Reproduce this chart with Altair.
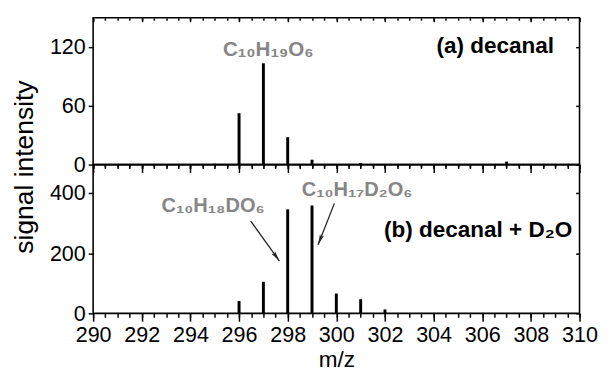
import altair as alt
import pandas as pd

# ---- data ----
mz_a = [295, 296, 297, 298, 299, 301, 307]
int_a = [1, 52.5, 103.5, 28, 5, 1.5, 3]

mz_b = [296, 297, 298, 299, 300, 301, 302]
int_b = [41, 105, 346, 359, 66, 47, 13]

x_major = [290, 292, 294, 296, 298, 300, 302, 304, 306, 308, 310]
x_minor = [290 + 0.5 * i for i in range(41)]
y_ticks_a = [0, 60, 120]
y_ticks_b = [0, 200, 400]

# annotations (data coordinates)
lab_a_text = ["C\u2081\u2080H\u2081\u2089O\u2086"]
lab_a_x = [297.2]
lab_a_y = [111]
lab_b_text = ["C\u2081\u2080H\u2081\u2088DO\u2086", "C\u2081\u2080H\u2081\u2087D\u2082O\u2086"]
lab_b_x = [294.93, 300.85]
lab_b_y = [337, 391]
arr_x1 = [296.48, 299.92]
arr_y1 = [307, 366]
arr_x2 = [297.66, 299.25]
arr_y2 = [174, 228]
arr_angle = [144.5, 201.4]

W, H1, H2 = 497, 150, 152
FONT = "Liberation Sans"
GRAY = "#868686"
LBL = 22

xs = alt.Scale(domain=[290, 310], nice=False, zero=False)
ys_a = alt.Scale(domain=[0, 150], nice=False)
ys_b = alt.Scale(domain=[0, 495], nice=False)


def ax(orient, values, tick, labels=False, offset=0, **kw):
    return alt.Axis(orient=orient, values=values, tickSize=tick, labels=labels,
                    domain=False, grid=False, title=None, offset=offset,
                    tickColor="black", tickWidth=1.5, labelFont=FONT,
                    labelFontSize=LBL, labelColor="black", labelFlush=False,
                    labelOverlap=False, **kw)


def panel(mz, vals, ys, H, yvals, bottom_labels, with_title):
    df = pd.DataFrame({"mz": mz, "v": vals})
    base = alt.Chart(df)
    if with_title:
        yaxis = alt.Axis(orient="left", values=yvals, tickSize=5, labelPadding=3,
                         domain=False, grid=False, title="signal intensity",
                         titleFont=FONT, titleFontSize=27, titleFontWeight="normal",
                         titleColor="black", titleX=-70, titleY=152,
                         titleBaseline="middle", titleAngle=270,
                         tickColor="black", tickWidth=1.5, labelFont=FONT,
                         labelFontSize=LBL, labelColor="black", labelFlush=False,
                         labelOverlap=False)
    else:
        yaxis = ax("left", yvals, 5, labels=True, labelPadding=3)
    if bottom_labels:
        xaxis = alt.Axis(orient="bottom", values=x_major, tickSize=8, labels=True,
                         labelPadding=4, domain=False, grid=False, title="m/z",
                         titleFont=FONT, titleFontSize=23, titleFontWeight="normal",
                         titleColor="black", titlePadding=3,
                         tickColor="black", tickWidth=1.5, labelFont=FONT,
                         labelFontSize=LBL, labelColor="black", labelFlush=False,
                         labelOverlap=False)
    else:
        xaxis = ax("bottom", x_major, 8)
    bars = base.mark_rule(strokeWidth=3, color="black", strokeCap="butt").encode(
        x=alt.X("mz:Q", scale=xs, axis=xaxis),
        y=alt.Y("v:Q", scale=ys, axis=yaxis),
        y2=alt.datum(0),
    )
    l2 = base.mark_point(opacity=0).encode(
        x=alt.X("mz:Q", scale=xs, axis=ax("bottom", x_minor, 4)),
        y=alt.Y("v:Q", scale=ys, axis=ax("left", yvals, 4, offset=-W)),
    )
    l3 = base.mark_point(opacity=0).encode(
        x=alt.X("mz:Q", scale=xs, axis=ax("bottom", x_major, 4, offset=-H)),
        y=alt.Y("v:Q", scale=ys, axis=None),
    )
    l4 = base.mark_point(opacity=0).encode(
        x=alt.X("mz:Q", scale=xs, axis=ax("bottom", x_minor, 2.5, offset=-H)),
        y=alt.Y("v:Q", scale=ys, axis=None),
    )
    return [bars, l2, l3, l4]


def text_layer(xv, yv, tv, ys, color, size, align="center"):
    df = pd.DataFrame({"x": xv, "y": yv, "t": tv})
    return alt.Chart(df).mark_text(font=FONT, fontWeight="bold", fontSize=size,
                                   color=color, align=align,
                                   baseline="alphabetic").encode(
        x=alt.X("x:Q", scale=xs, axis=None),
        y=alt.Y("y:Q", scale=ys, axis=None),
        text="t:N",
    )


# top panel
top_layers = panel(mz_a, int_a, ys_a, H1, y_ticks_a, False, True)
top_layers.append(text_layer(lab_a_x, lab_a_y, lab_a_text, ys_a, GRAY, 21))
top_layers.append(text_layer([308.95], [114.5], ["(a) decanal"], ys_a, "black", 23, "right"))
top = alt.layer(*top_layers).resolve_axis(x="independent", y="independent").properties(
    width=W, height=H1)

# bottom panel
bot_layers = panel(mz_b, int_b, ys_b, H2, y_ticks_b, True, False)
bot_layers.append(text_layer(lab_b_x, lab_b_y, lab_b_text, ys_b, GRAY, 20.5))
bot_layers.append(text_layer([309.7], [255], ["(b) decanal + D\u2082O"], ys_b, "black", 23, "right"))
arr_df = pd.DataFrame({"x1": arr_x1, "y1": arr_y1, "x2": arr_x2, "y2": arr_y2,
                       "ang": arr_angle})
arrows = alt.Chart(arr_df).mark_rule(color="#222222", strokeWidth=1.3).encode(
    x=alt.X("x1:Q", scale=xs, axis=None),
    x2="x2:Q",
    y=alt.Y("y1:Q", scale=ys_b, axis=None),
    y2="y2:Q",
)
heads = alt.Chart(arr_df).mark_point(
    shape="M0,0L-0.35,1.7L0,1.3L0.35,1.7Z", filled=True, color="#222222",
    size=170, opacity=1,
).encode(
    x=alt.X("x2:Q", scale=xs, axis=None),
    y=alt.Y("y2:Q", scale=ys_b, axis=None),
    angle=alt.Angle("ang:Q", scale=None),
)
bot_layers += [arrows, heads]
bottom = alt.layer(*bot_layers).resolve_axis(x="independent", y="independent").properties(
    width=W, height=H2)

chart = alt.vconcat(top, bottom, spacing=0, bounds="flush").properties(
    padding={"left": 2, "top": 4, "right": 5, "bottom": 0},
    background="white",
).configure_view(stroke="black", strokeWidth=1.6)

chart.save("out.html", embed_options={"renderer": "svg", "actions": False})
